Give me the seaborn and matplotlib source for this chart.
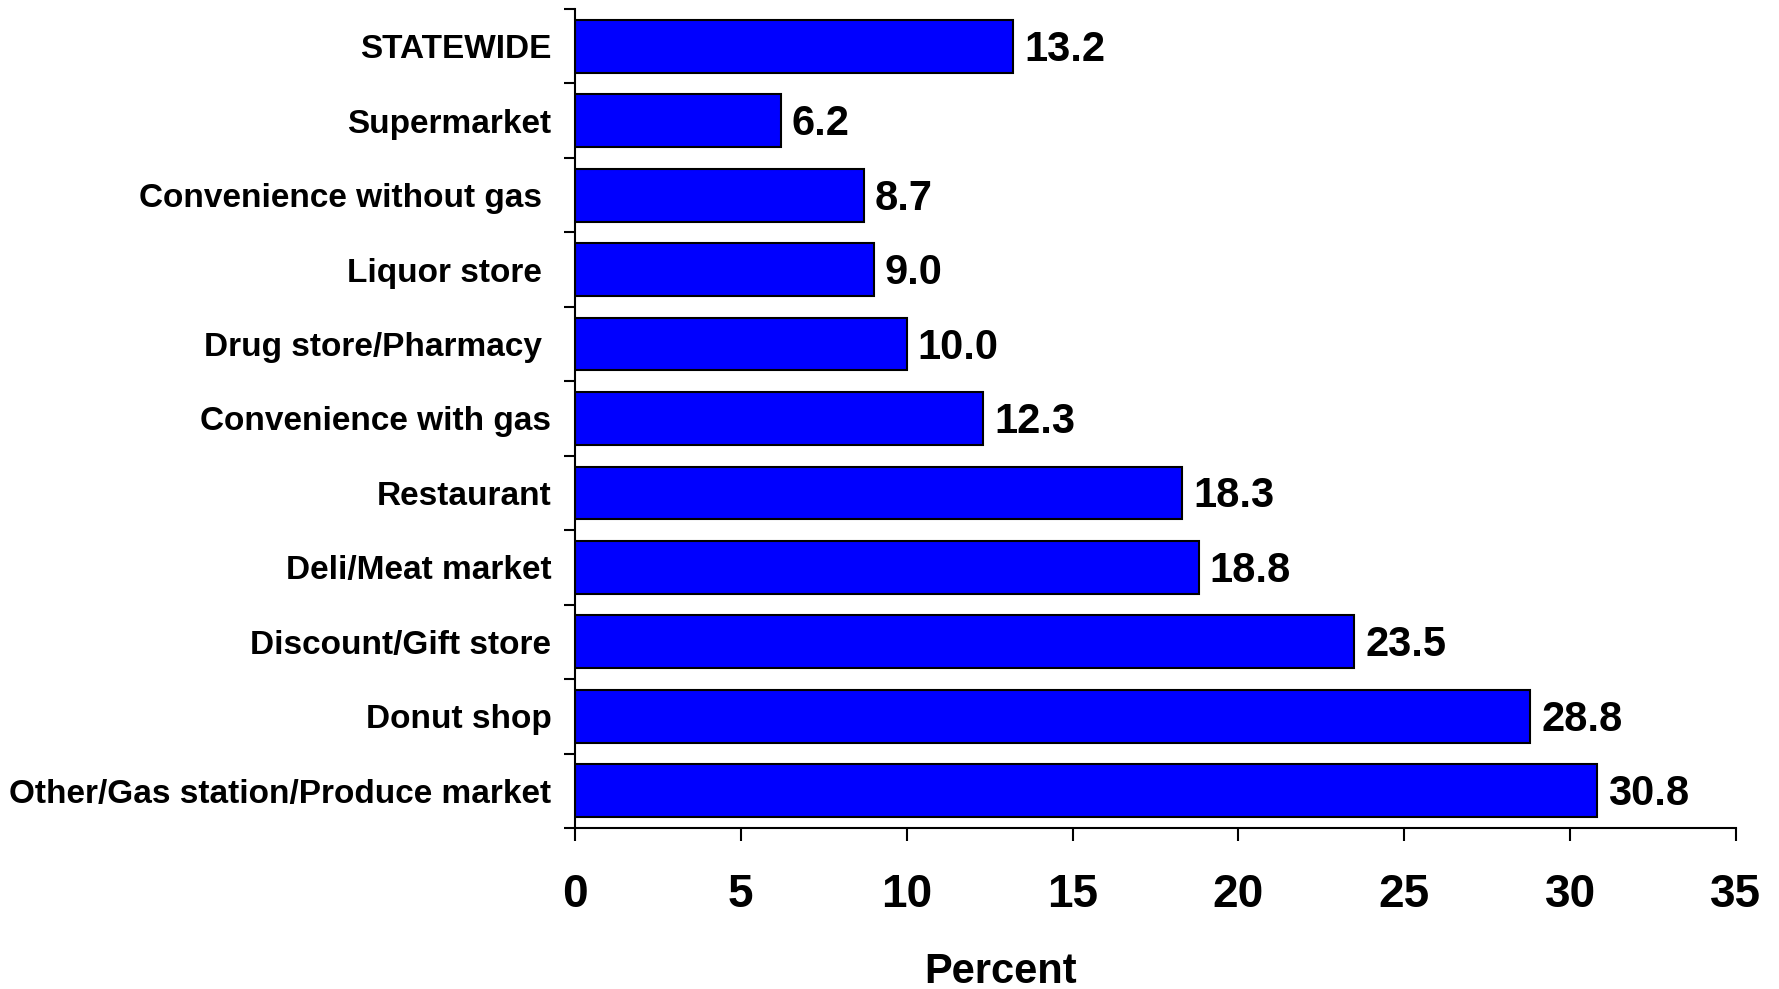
import matplotlib
matplotlib.use("Agg")
import matplotlib.pyplot as plt
import seaborn as sns
import pandas as pd
import numpy as np

categories = ["STATEWIDE", "Supermarket", "Convenience without gas ", "Liquor store ",
              "Drug store/Pharmacy ", "Convenience with gas", "Restaurant",
              "Deli/Meat market", "Discount/Gift store", "Donut shop",
              "Other/Gas station/Produce market"]
values = [13.2, 6.2, 8.7, 9.0, 10.0, 12.3, 18.3, 18.8, 23.5, 28.8, 30.8]
xticks = [0, 5, 10, 15, 20, 25, 30, 35]

sns.set_theme(style="white")
plt.rcParams['font.family'] = ['Liberation Sans', 'DejaVu Sans']
plt.rcParams['font.weight'] = 'bold'
plt.rcParams['text.color'] = 'black'
plt.rcParams['xtick.color'] = 'black'
plt.rcParams['ytick.color'] = 'black'

df = pd.DataFrame({"category": categories, "value": values})

fig = plt.figure(figsize=(17.79, 9.89), dpi=100)
ax = fig.add_axes([0.3232, 0.1628, 0.6526, 0.8281])
sns.barplot(data=df, x="value", y="category", orient="h", color="#0000FF",
            edgecolor="black", linewidth=1.5, width=0.71, saturation=1, ax=ax)

ax.set_xlim(0, 35)
ax.set_ylim(len(categories) - 0.5, -0.5)
ax.set_xticks(xticks)
ax.set_xticklabels([str(t) for t in xticks], fontsize=33, fontweight='bold', color='black')
ax.tick_params(axis='x', which='major', direction='out', length=9.4, width=1.5,
               pad=23, bottom=True, color='black')
ax.tick_params(axis='y', which='major', length=0, pad=17, labelsize=24, labelcolor='black')
for lab in ax.get_yticklabels():
    lab.set_fontweight('bold')
ax.set_yticks(np.arange(-0.5, len(categories), 1.0), minor=True)
ax.tick_params(axis='y', which='minor', direction='out', length=8, width=1.5,
               left=True, color='black')

ax.set_xlabel("")
ax.set_ylabel("")
fig.text(0.5627, 0.0065, "Percent", ha="center", va="baseline",
         fontsize=30, fontweight="bold", color="black")

for s in ["top", "right"]:
    ax.spines[s].set_visible(False)
for s in ["left", "bottom"]:
    ax.spines[s].set_color("black")
    ax.spines[s].set_linewidth(1.5)

for i, v in enumerate(values):
    ax.annotate(f"{v:.1f}", xy=(v, i), xytext=(8, -2.5), textcoords="offset points",
                va="center", ha="left", fontsize=30, fontweight="bold", color="black")

fig.savefig("out.png", dpi=100)
